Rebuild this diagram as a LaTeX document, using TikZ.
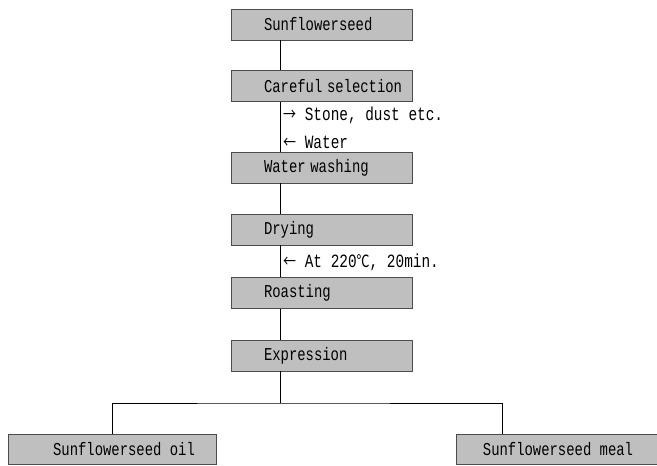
\documentclass[tikz,border=0pt]{standalone}
\usepackage{fontspec}
\setmonofont{Liberation Mono}
\newfontfamily\cjk{Noto Sans CJK SC}
\usepackage{graphicx}
\begin{document}
\begin{tikzpicture}[x=1pt,y=-1pt,
  procbox/.style={draw=black!70,line width=0.7pt,fill=black!25,
    minimum height=31pt,inner ysep=0pt,inner xsep=33pt,text width=115pt,align=left,
    font=\ttfamily\fontsize{13.9}{14}\selectfont},
  endbox/.style={draw=black!70,line width=0.7pt,fill=black!25,
    minimum height=30pt,inner ysep=0pt,inner xsep=0pt,
    font=\ttfamily\fontsize{13.9}{14}\selectfont},
  sidelab/.style={anchor=west,inner sep=0pt,font=\ttfamily\fontsize{14.4}{15}\selectfont},
  conn/.style={draw=black,line width=0.8pt}]
\useasboundingbox (0,0) rectangle (657,466);
\fill[white] (0,0) rectangle (657,466);
\newcommand{\tallt}[1]{\scalebox{1}[1.3]{#1}}
\newcommand{\arw}[1]{{\cjk\fontsize{13}{14}\selectfont #1}}
\coordinate (xl) at (280,0);
\coordinate (mx) at (502,0);
\coordinate (hl) at (280,403);
\node[procbox] (seed) at (321.5,24.5) {\tallt{Sunflowerseed}};
\node[procbox] (care) at (321.5,86) {\tallt{Careful selection}};
\node[procbox] (wash) at (321.5,167.5) {\tallt{Water washing}};
\node[procbox] (dry) at (321.5,229.5) {\tallt{Drying}};
\node[procbox] (roast) at (321.5,293) {\tallt{Roasting}};
\node[procbox] (expr) at (321.5,355.5) {\tallt{Expression}};
\node[endbox,minimum width=208pt] (oil) at (112,449) {\hspace*{24pt}\tallt{Sunflowerseed oil}\hfill};
\node[endbox,minimum width=204pt] (meal) at (558,449.5) {\tallt{Sunflowerseed meal}};
\node[sidelab] (stone) at (283,115) {\tallt{\arw{→}\ Stone, dust etc.}};
\node[sidelab] (water) at (283,142) {\tallt{\arw{←}\ Water}};
\node[sidelab] (temp) at (283,262) {\tallt{\arw{←}\ At 220\arw{℃}, 20min.}};
\draw[conn] (seed.south -| xl) -- (care.north -| xl);
\draw[conn] (care.south -| xl) -- (wash.north -| xl);
\draw[conn] (wash.south -| xl) -- (dry.north -| xl);
\draw[conn] (dry.south -| xl) -- (roast.north -| xl);
\draw[conn] (roast.south -| xl) -- (expr.north -| xl);
\draw[conn] (expr.south -| xl) -- (hl);
\draw[conn] (oil.north) |- (hl) -| (meal.north -| mx);
\end{tikzpicture}
\end{document}
